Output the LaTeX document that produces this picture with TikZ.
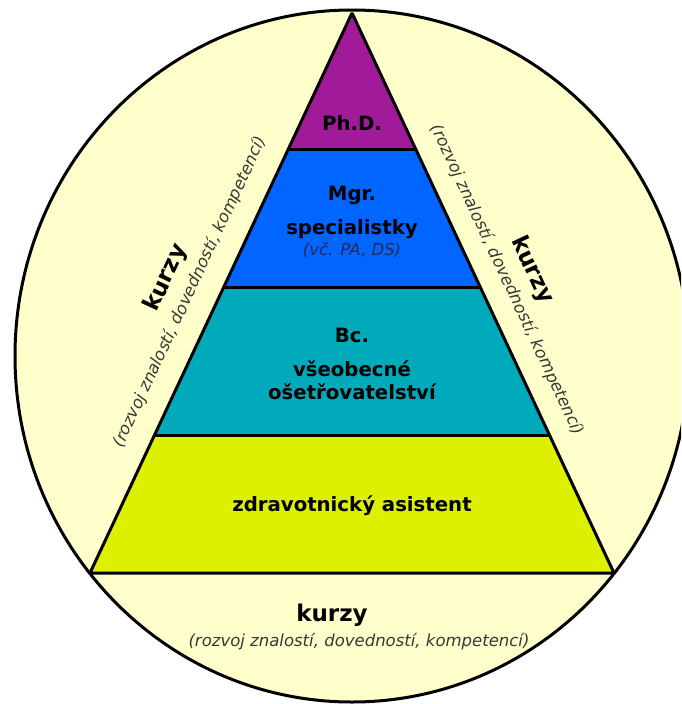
\documentclass[tikz,border=0pt]{standalone}
\usepackage{fontspec}
\setmainfont{DejaVu Sans}
\usetikzlibrary{calc}

\definecolor{kurzbg}{RGB}{255,255,204}
\definecolor{phdfill}{RGB}{160,26,154}
\definecolor{mgrfill}{RGB}{0,102,255}
\definecolor{bcfill}{RGB}{0,170,187}
\definecolor{zafill}{RGB}{221,240,0}
\definecolor{notegray}{RGB}{55,55,55}
\definecolor{notenavy}{RGB}{40,40,90}

\tikzset{
  level/.style={font=\fontsize{19.7}{22}\selectfont\bfseries, anchor=base},
  kurz/.style={font=\fontsize{23}{26}\selectfont\bfseries},
  note/.style={font=\fontsize{16.5}{19}\selectfont\itshape, text=notegray},
  edge/.style={line width=3pt},
}

\begin{document}
\begin{tikzpicture}[x=1pt,y=-1pt]
\useasboundingbox (0,0) rectangle (681,704);
\clip (0,0) rectangle (681,704);
\fill[white] (0,0) rectangle (681,704);
\draw[edge, fill=kurzbg] (352,356) ellipse [x radius=337, y radius=346];

\coordinate (apex) at (352,13);
\coordinate (bl) at (90,573);
\coordinate (br) at (614,573);

% pyramid levels
\foreach \a/\b/\col in {0/0.2446/phdfill, 0.2446/0.491/mgrfill, 0.491/0.7536/bcfill, 0.7536/1/zafill} {
    \fill[\col] ($(apex)!\a!(bl)$) -- ($(apex)!\b!(bl)$) -- ($(apex)!\b!(br)$) -- ($(apex)!\a!(br)$) -- cycle;
}
\foreach \b in {0.2446, 0.491, 0.7536} {
    \draw[edge] ($(apex)!\b!(bl)$) -- ($(apex)!\b!(br)$);
}
\draw[edge, line join=bevel] (apex) -- (bl) -- (br) -- cycle;

\node[level] (phd) at (352,130) {Ph.D.};
\node[level] (mgr) at (352,200) {Mgr.};
\node[level] (spec) at (352,234) {specialistky};
\node[note, text=notenavy, anchor=base] (specnote) at (352,255) {(vč. PA, DS)};
\node[level] (bc) at (352,342) {Bc.};
\node[level] (vseob) at (352,376) {všeobecné};
\node[level] (oset) at (352,399) {ošetřovatelství};
\node[level] (zdrav) at (352,511) {zdravotnický asistent};

% kurzy round the pyramid
\node[kurz, anchor=base] (kbottom) at (332,621) {kurzy};
\node[note, anchor=base] (nbottom) at (359,646) {(rozvoj znalostí, dovedností, kompetencí)};
\node[kurz, rotate=65] (kleft) at (166,278) {kurzy};
\node[note, rotate=65] (nleft) at (190,292) {(rozvoj znalostí, dovedností, kompetencí)};
\node[kurz, rotate=-65] (kright) at (532,270) {kurzy};
\node[note, rotate=-65] (nright) at (507,280) {(rozvoj znalostí, dovedností, kompetencí)};
\end{tikzpicture}
\end{document}
